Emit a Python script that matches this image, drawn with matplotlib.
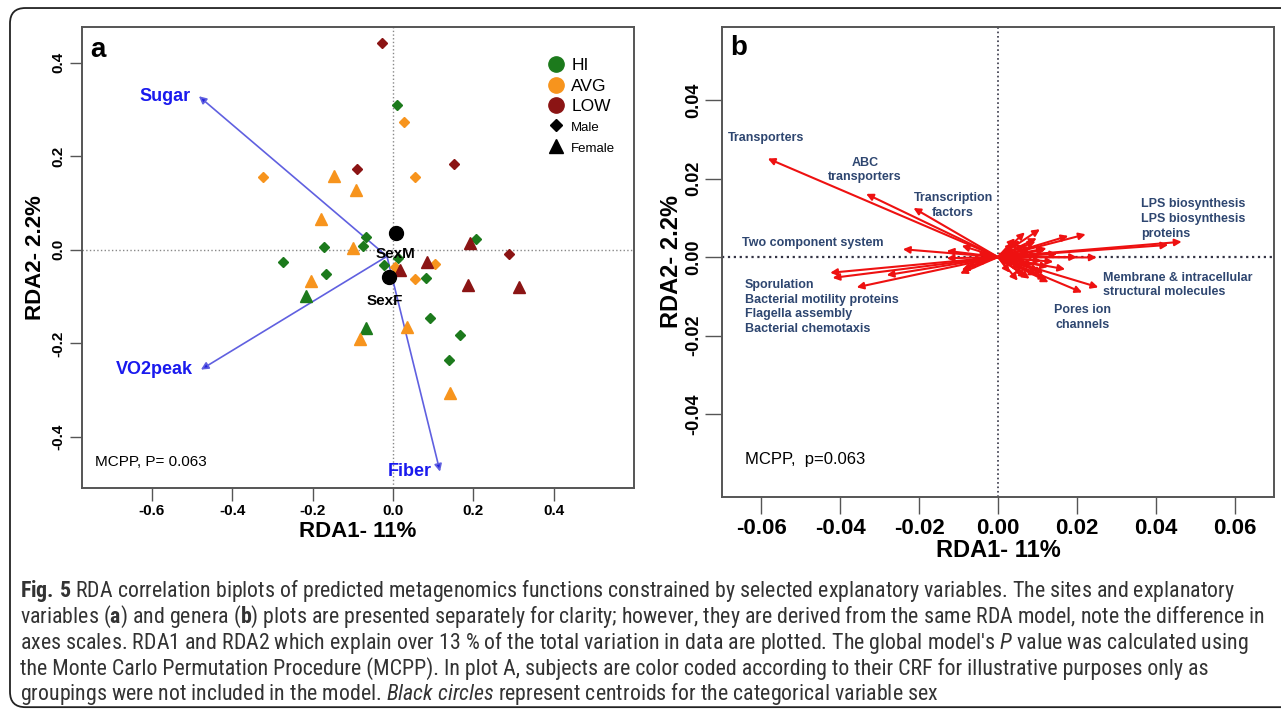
import matplotlib
matplotlib.use('Agg')
import matplotlib.pyplot as plt
from matplotlib.lines import Line2D
from matplotlib.patches import FancyBboxPatch
from matplotlib import font_manager

plt.rcParams['font.family'] = ['Liberation Sans', 'DejaVu Sans']

# ---- panel a: site scores by CRF group and sex ----
hi_male_x = [0.011, -0.068, -0.074, -0.171, 0.206, -0.022, -0.167, -0.274, 0.013, 0.082, 0.092, 0.167, 0.139]
hi_male_y = [0.309, 0.027, 0.007, 0.006, 0.023, -0.032, -0.051, -0.026, -0.018, -0.060, -0.146, -0.182, -0.235]
hi_female_x = [-0.217, -0.067]
hi_female_y = [-0.098, -0.167]
avg_male_x = [0.027, 0.055, -0.323, 0.104, 0.055, 0.005]
avg_male_y = [0.273, 0.155, 0.155, -0.030, -0.062, -0.036]
avg_female_x = [-0.148, -0.092, -0.179, -0.099, -0.204, -0.082, 0.036, 0.142]
avg_female_y = [0.157, 0.128, 0.066, 0.004, -0.066, -0.191, -0.166, -0.305]
low_male_x = [-0.028, 0.153, -0.089, 0.289]
low_male_y = [0.442, 0.183, 0.173, -0.009]
low_female_x = [0.192, 0.084, 0.017, 0.186, 0.314]
low_female_y = [0.014, -0.027, -0.043, -0.076, -0.080]

# sex centroids
cent_names = ['SexM', 'SexF']
cent_x = [0.007, -0.009]
cent_y = [0.036, -0.058]

# explanatory variable vectors
env_names = ['Sugar', 'VO2peak', 'Fiber']
env_x = [-0.483, -0.478, 0.117]
env_y = [0.328, -0.256, -0.474]
env_origin = (-0.015, -0.014)

# ---- panel b: function vectors ----
fun_x = [-0.0583, -0.0334, -0.0214, -0.0241, -0.0130, -0.0092, -0.0130, -0.0071, -0.0080,
         -0.0092, -0.0096, -0.0425, -0.0419, -0.0282, -0.0358, -0.0050, -0.0060,
         0.0465, 0.0431, 0.0222, 0.0178, 0.0106, 0.0068, 0.0098, 0.0043, 0.0123, 0.0119,
         0.0250, 0.0200, 0.0254, 0.0213, 0.0170, 0.0123, 0.0073, 0.0098, 0.0127, 0.0052,
         0.0128, 0.0040, 0.0060, 0.0080, 0.0030, 0.0070, 0.0050, 0.0090, 0.0060, 0.0110,
         0.0040, 0.0100, 0.0080, 0.0115, 0.0035, 0.0065, 0.0085, 0.0045, 0.0075, 0.0095,
         0.0025, 0.0055, 0.0105, 0.0140, 0.0150]
fun_y = [0.0251, 0.0161, 0.0125, 0.0020, 0.0016, 0.0029, -0.0003, -0.0008, -0.0025,
         -0.0033, -0.0042, -0.0040, -0.0053, -0.0046, -0.0077, 0.0012, -0.0015,
         0.0039, 0.0031, 0.0058, 0.0054, 0.0071, 0.0063, 0.0048, 0.0048, 0.0022, 0.0018,
         -0.0001, 0.0000, -0.0077, -0.0090, -0.0031, -0.0057, -0.0052, -0.0046, -0.0025, -0.0011,
         -0.0064, 0.0020, -0.0030, 0.0010, -0.0040, 0.0030, -0.0060, -0.0020, 0.0000, -0.0010,
         0.0035, 0.0005, -0.0055, -0.0040, -0.0020, -0.0045, 0.0025, 0.0010, -0.0015, 0.0040,
         0.0008, 0.0042, -0.0035, -0.0012, 0.0008]

fun_labels = ['Transporters', 'ABC\ntransporters', 'Transcription\nfactors', 'Two component system',
              'Sporulation\nBacterial motility proteins\nFlagella assembly\nBacterial chemotaxis',
              'LPS biosynthesis\nLPS biosynthesis\nproteins',
              'Membrane & intracellular\nstructural molecules', 'Pores ion\nchannels']
label_x = [-0.0684, -0.0337, -0.0114, -0.0648, -0.0641, 0.0362, 0.0266, 0.0215]
label_y = [0.0303, 0.0222, 0.0131, 0.0036, -0.0127, 0.0097, -0.0071, -0.0153]
label_ha = ['left', 'center', 'center', 'left', 'left', 'left', 'left', 'center']

green = '#1c7a1c'
orange = '#f7941d'
darkred = '#8b1414'
arrow_blue = '#6060e0'
text_blue = '#1a1aee'
fun_color = '#2e4670'

fig = plt.figure(figsize=(12.81, 7.10), dpi=100)

# outer frame of the figure
frame = FancyBboxPatch((0.0078, 0.004), 1.05, 0.9847, boxstyle='round,pad=0,rounding_size=0.012',
                       mutation_aspect=1281 / 710, transform=fig.transFigure, fill=False,
                       ec='#222222', lw=1.3)
fig.patches.append(frame)

# ===================== panel a =====================
ax = fig.add_axes([0.064, 0.313, 0.431, 0.649])
ax.set_xlim(-0.774, 0.600)
ax.set_ylim(-0.5085, 0.476)
ax.axhline(0, color='#888888', ls=':', lw=1.0, zorder=1)
ax.axvline(0, color='#888888', ls=':', lw=1.0, zorder=1)

for ex, ey, name in zip(env_x, env_y, env_names):
    ax.annotate('', xy=(ex, ey), xytext=env_origin,
                arrowprops=dict(arrowstyle='-|>', color=arrow_blue, lw=1.2,
                                mutation_scale=11, shrinkA=0, shrinkB=0,
                                fc='#2222dd', ec=arrow_blue), zorder=2)
    ax.annotate(name, xy=(ex, ey), xytext=(-6, 0), textcoords='offset points',
                ha='right', va='center', color=text_blue, fontsize=13, fontweight='bold')

groups = [(hi_male_x, hi_male_y, green, 'D'), (hi_female_x, hi_female_y, green, '^'),
          (avg_male_x, avg_male_y, orange, 'D'), (avg_female_x, avg_female_y, orange, '^'),
          (low_male_x, low_male_y, darkred, 'D'), (low_female_x, low_female_y, darkred, '^')]
for gx, gy, col, mk in groups:
    ax.plot(gx, gy, ls='none', marker=mk, color=col, ms=5.5 if mk == 'D' else 9, zorder=3)

ax.plot(cent_x, cent_y, ls='none', marker='o', color='black', ms=10, zorder=4)
ax.annotate(cent_names[0], xy=(cent_x[0], cent_y[0]), xytext=(0, -15), textcoords='offset points',
            ha='center', va='center', fontsize=11, fontweight='bold', zorder=5)
ax.annotate(cent_names[1], xy=(cent_x[1], cent_y[1]), xytext=(-3, -17), textcoords='offset points',
            ha='center', va='center', fontsize=11, fontweight='bold', zorder=5)

handles = [Line2D([], [], ls='none', marker='o', color=green, ms=11),
           Line2D([], [], ls='none', marker='o', color=orange, ms=11),
           Line2D([], [], ls='none', marker='o', color=darkred, ms=11),
           Line2D([], [], ls='none', marker='D', color='black', ms=6),
           Line2D([], [], ls='none', marker='^', color='black', ms=10)]
leg = ax.legend(handles, ['HI', 'AVG', 'LOW', 'Male', 'Female'], loc='upper right',
                bbox_to_anchor=(0.985, 0.955), frameon=False, handletextpad=0.25,
                labelspacing=0.3, handlelength=1.3, borderaxespad=0.2, fontsize=12.5)
for t in leg.get_texts()[3:]:
    t.set_fontsize(9.5)

ax.text(0.015, 0.95, 'a', transform=ax.transAxes, fontsize=20, fontweight='bold', va='center')
ax.text(0.024, 0.056, 'MCPP, P= 0.063', transform=ax.transAxes, fontsize=11, va='center')

ax.set_xticks([-0.6, -0.4, -0.2, 0.0, 0.2, 0.4])
ax.set_yticks([-0.4, -0.2, 0.0, 0.2, 0.4])
ax.set_xticklabels(['-0.6', '-0.4', '-0.2', '0.0', '0.2', '0.4'])
ax.set_yticklabels(['-0.4', '-0.2', '0.0', '0.2', '0.4'], rotation=90, va='center')
ax.tick_params(length=9, width=1, color='#555555', labelsize=11, pad=3)
for lab in ax.get_xticklabels() + ax.get_yticklabels():
    lab.set_fontweight('bold')
for sp in ax.spines.values():
    sp.set_color('#555555')
    sp.set_linewidth(1.4)
ax.set_xlabel('RDA1- 11%', fontsize=16, fontweight='bold', labelpad=2)
ax.set_ylabel('RDA2- 2.2%', fontsize=16, fontweight='bold', labelpad=4)

# ===================== panel b =====================
bx = fig.add_axes([0.5636, 0.300, 0.431, 0.662])
bx.set_xlim(-0.0699, 0.0699)
bx.set_ylim(-0.0611, 0.0586)
bx.axhline(0, color='#333344', ls=':', lw=1.6, zorder=1)
bx.axvline(0, color='#333344', ls=':', lw=1.2, zorder=1)

for fx, fy in zip(fun_x, fun_y):
    bx.annotate('', xy=(fx, fy), xytext=(0, 0),
                arrowprops=dict(arrowstyle='-|>', color='#ee1111', lw=1.5,
                                mutation_scale=10, shrinkA=0, shrinkB=0), zorder=2)

for lab, lx, ly, ha in zip(fun_labels, label_x, label_y, label_ha):
    bx.text(lx, ly, lab, ha=ha, va='center', color=fun_color, fontsize=9,
            fontweight='bold', linespacing=1.3, zorder=3)

bx.text(0.015, 0.955, 'b', transform=bx.transAxes, fontsize=20, fontweight='bold', va='center')
bx.text(0.042, 0.079, 'MCPP,  p=0.063', transform=bx.transAxes, fontsize=12, va='center')

bx.set_xticks([-0.06, -0.04, -0.02, 0.0, 0.02, 0.04, 0.06])
bx.set_xticklabels(['-0.06', '-0.04', '-0.02', '0.00', '0.02', '0.04', '0.06'])
bx.set_yticks([-0.04, -0.02, 0.0, 0.02, 0.04])
bx.set_yticklabels(['-0.04', '-0.02', '0.00', '0.02', '0.04'], rotation=90, va='center')
bx.tick_params(length=12, width=1, color='#555555', pad=2)
bx.tick_params(axis='x', labelsize=16, pad=3)
bx.tick_params(axis='y', labelsize=13)
for lab in bx.get_xticklabels() + bx.get_yticklabels():
    lab.set_fontweight('bold')
for sp in bx.spines.values():
    sp.set_color('#555555')
    sp.set_linewidth(1.4)
bx.set_xlabel('RDA1- 11%', fontsize=17, fontweight='bold', labelpad=0)
bx.set_ylabel('RDA2- 2.2%', fontsize=17, fontweight='bold', labelpad=2)

# ===================== caption =====================
cap_family = 'Liberation Sans'
for cand in ['Liberation Sans Narrow', 'Roboto Condensed', 'Open Sans Condensed']:
    try:
        font_manager.findfont(cand, fallback_to_default=False)
        cap_family = cand
        break
    except ValueError:
        pass
plt.rcParams['mathtext.fontset'] = 'custom'
plt.rcParams['mathtext.rm'] = cap_family
plt.rcParams['mathtext.bf'] = cap_family + ':bold'
plt.rcParams['mathtext.it'] = cap_family + ':italic'

caption = [
    r'$\mathbf{Fig.\,5}$ RDA correlation biplots of predicted metagenomics functions constrained by selected explanatory variables. The sites and explanatory',
    r'variables ($\mathbf{a}$) and genera ($\mathbf{b}$) plots are presented separately for clarity; however, they are derived from the same RDA model, note the difference in',
    r"axes scales. RDA1 and RDA2 which explain over 13 % of the total variation in data are plotted. The global model's $\mathit{P}$ value was calculated using",
    r'the Monte Carlo Permutation Procedure (MCPP). In plot A, subjects are color coded according to their CRF for illustrative purposes only as',
    r'groupings were not included in the model. $\mathit{Black\ circles}$ represent centroids for the categorical variable sex',
]
cap_base = [597, 623, 649, 675, 700]
cap_texts = []
for line, yy in zip(caption, cap_base):
    cap_texts.append(fig.text(20 / 1281, 1 - yy / 710, line, family=cap_family, fontsize=13,
                              color='#333333', va='baseline', ha='left'))

# fit the caption size so the widest line spans the frame
fig.canvas.draw()
r = fig.canvas.get_renderer()
w = cap_texts[1].get_window_extent(r).width
for t in cap_texts:
    t.set_fontsize(13 * 1242 / w)

fig.savefig('out.png', dpi=100)
